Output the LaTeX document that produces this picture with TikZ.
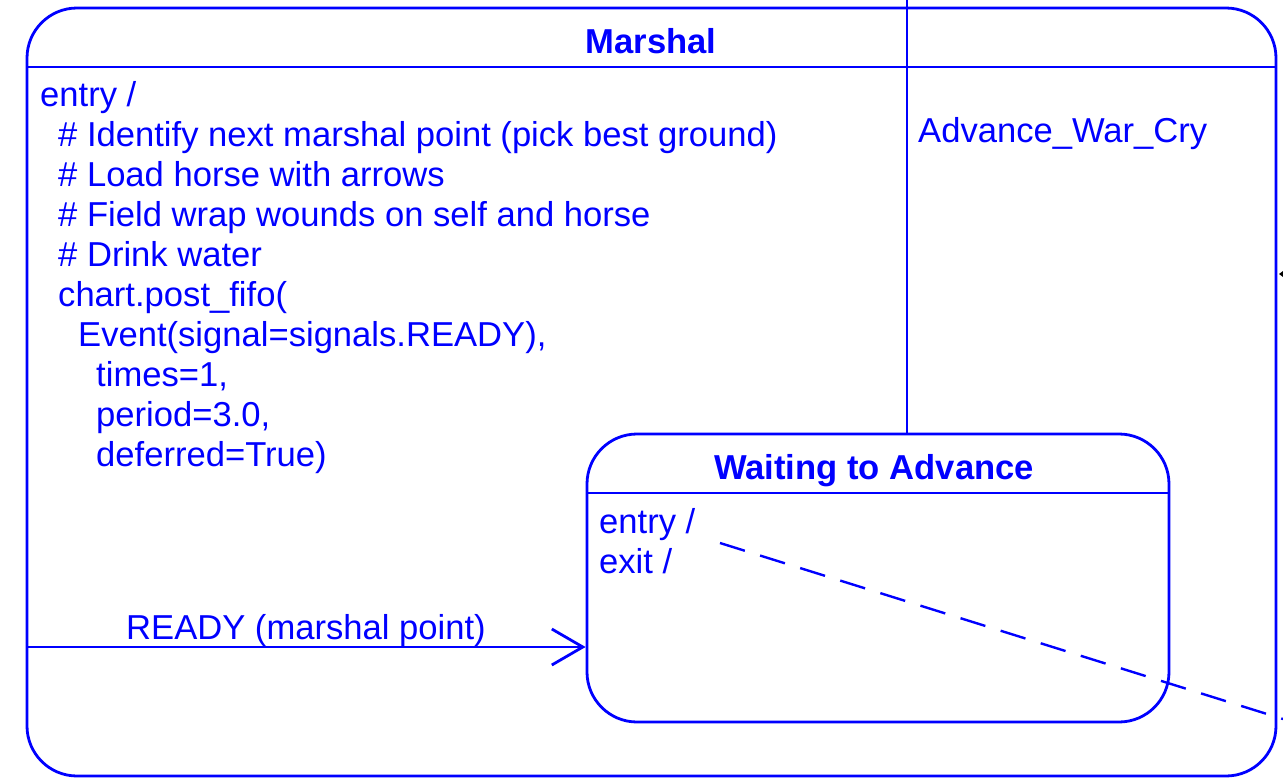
\documentclass[tikz,border=0pt]{standalone}
\usepackage{fontspec}
\setmainfont{Liberation Sans}
\usetikzlibrary{arrows.meta}
\definecolor{umlblue}{RGB}{0,0,255}
\tikzset{
  statebox/.style={draw=umlblue, line width=2.8pt, rounded corners=50pt, inner sep=0pt},
  wire/.style={draw=umlblue, line width=2.8pt},
  txt/.style={anchor=base west, inner sep=0pt, text=umlblue, font=\fontsize{34.6}{40}\selectfont},
  title/.style={anchor=base, inner sep=0pt, text=umlblue, font=\fontsize{34.6}{40}\selectfont\bfseries},
}
\begin{document}
\begin{tikzpicture}[x=1pt,y=-1pt]
\useasboundingbox (0,0) rectangle (1283,782);
% outer state
\node[statebox, minimum width=1249pt, minimum height=768pt] (marshal) at (651.5,392) {};
\node[title] (mtitle) at (651,53) {Marshal};
\coordinate (msepL) at (27,67);
\coordinate (msepR) at (1276,67);
\draw[wire] (msepL) -- (msepR);
% entry text
\node[txt] (l1) at (40,106) {entry /};
\node[txt] (l2) at (58,146) {\# Identify next marshal point (pick best ground)};
\node[txt] (l3) at (58,186) {\# Load horse with arrows};
\node[txt] (l4) at (58,226) {\# Field wrap wounds on self and horse};
\node[txt] (l5) at (58,266) {\# Drink water};
\node[txt] (l6) at (58,306) {chart.post\_fifo(};
\node[txt] (l7) at (78,346) {Event(signal=signals.READY),};
\node[txt] (l8) at (96,386) {times=1,};
\node[txt] (l9) at (96,426) {period=3.0,};
\node[txt] (l10) at (96,466) {deferred=True)};
% inner state
\node[statebox, minimum width=582pt, minimum height=288pt] (waiting) at (878,578) {};
\node[title] (wtitle) at (874,479) {Waiting to Advance};
\coordinate (wsepL) at (587,493);
\coordinate (wsepR) at (1169,493);
\draw[wire] (wsepL) -- (wsepR);
\node[txt] (we) at (599,533) {entry /};
\node[txt] (wx) at (599,573) {exit /};
% transition READY
\coordinate (rstart) at (27,647);
\draw[wire, -{Straight Barb[length=31pt,width=36pt,line width=2.8pt]}] (rstart) -- (rstart -| waiting.west);
\node[txt] (rlabel) at (126,639) {READY (marshal point)};
% Advance_War_Cry transition
\coordinate (atop) at (907,0);
\draw[wire] (atop) -- (atop |- waiting.north);
\node[txt] (alabel) at (918,142) {Advance\_War\_Cry};
% dashed note link
\coordinate (dstart) at (720,543);
\coordinate (dend) at (1283,719);
\draw[wire, line width=2.4pt, dash pattern=on 26pt off 16pt] (dstart) -- (dend);
% cropped arrow tip at right edge
\coordinate (tipA) at (1279,274);
\fill[black] (tipA) -- ++(4,-3) -- ++(0,6) -- cycle;
\end{tikzpicture}
\end{document}
